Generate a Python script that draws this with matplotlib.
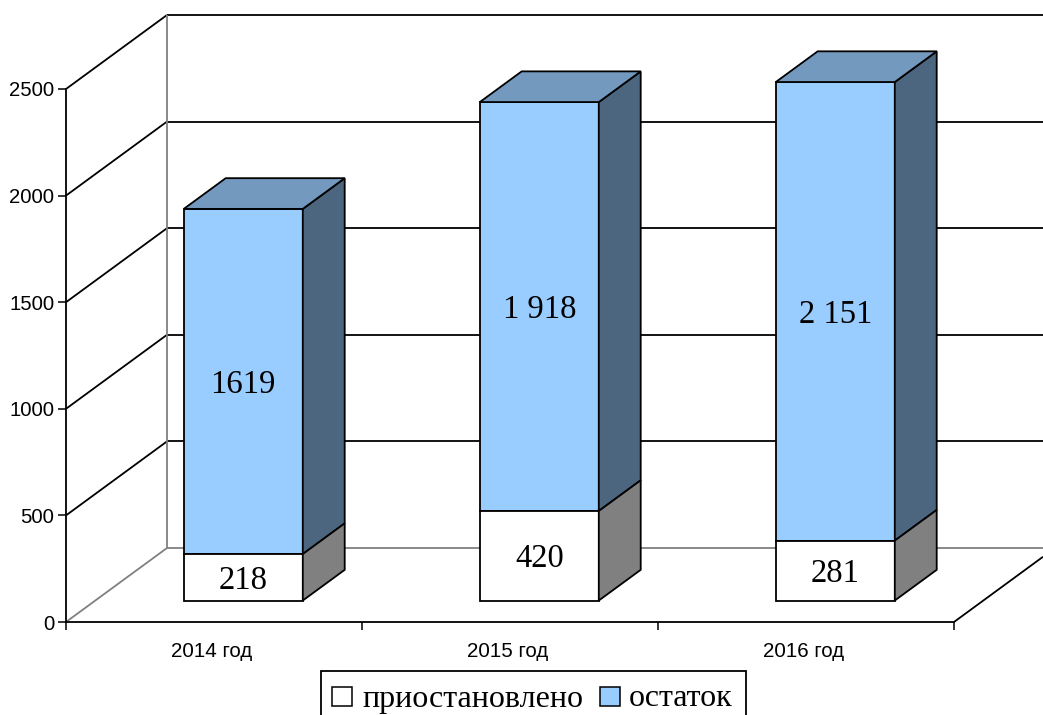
import matplotlib
matplotlib.use("Agg")
from matplotlib import pyplot as plt
from matplotlib.patches import Polygon, Rectangle

categories = ["2014 год", "2015 год", "2016 год"]
suspended = [218, 420, 281]
remainder = [1619, 1918, 2151]
remainder_labels = ["1619", "1 918", "2 151"]
y_ticks = [0, 500, 1000, 1500, 2000, 2500]

W, H = 1043, 715
# pixel position of the front plane
LEFT, RIGHT, BOTTOM, TOP = 66, 954, 622, 89

fig = plt.figure(figsize=(W / 100, H / 100), dpi=100)
ax = fig.add_axes([LEFT / W, 1 - BOTTOM / H, (RIGHT - LEFT) / W, (BOTTOM - TOP) / H])
ax.set_xlim(0, 3)
ax.set_ylim(0, 2500)

slot_px = (RIGHT - LEFT) / 3
val_px = (BOTTOM - TOP) / 2500
# depth of the box in data units, 1.0 = full wall depth
DX = 101 / slot_px
DY = 74 / val_px
BAR_W = 119 / slot_px
BAR_START = 0.29
BAR_DEPTH = 0.415


def shift(x, y, d):
    return x + d * DX, y + d * DY


def line(xs, ys, color="black", lw=1.3, z=1):
    ax.plot(xs, ys, color=color, lw=lw, clip_on=False, zorder=z, solid_capstyle="butt")


def face(points, color, z=3):
    ax.add_patch(Polygon(points, closed=True, facecolor=color, edgecolor="black",
                         lw=1.3, clip_on=False, zorder=z, joinstyle="miter"))


def box(x0, y0, y1, front, side, top=None):
    x1 = x0 + BAR_W
    d0, d1 = BAR_START, BAR_START + BAR_DEPTH
    fl = shift(x0, y0, d0)
    fr = shift(x1, y0, d0)
    tl = shift(x0, y1, d0)
    tr = shift(x1, y1, d0)
    face([fl, fr, tr, tl], front)
    face([fr, shift(x1, y0, d1), shift(x1, y1, d1), tr], side)
    if top is not None:
        face([tl, tr, shift(x1, y1, d1), shift(x0, y1, d1)], top)


# walls
right_end = 3 + (W - RIGHT) / slot_px
for v in y_ticks:
    gray = v == 0
    col = "#808080" if gray else "black"
    bx, by = shift(0, v, 1)
    line([0, bx], [v, by], col)
    line([bx, right_end], [by, by], col)
line([shift(0, 0, 1)[0]] * 2, [shift(0, 0, 1)[1], shift(0, 2500, 1)[1]], "#808080")
# right edge of the floor, runs off the picture
frac = (W - RIGHT) / 101
line([3, 3 + frac * DX], [0, frac * DY])

# bars
label_drop = 3 / val_px
for i in range(len(categories)):
    x0 = i + 0.5 - BAR_W / 2
    s, r = suspended[i], remainder[i]
    box(x0, s, s + r, "#99ccff", "#4d6680", "#7399bf")
    box(x0, 0, s, "white", "#808080")
    lx, ly = shift(i + 0.5, s / 2, BAR_START)
    ax.text(lx, ly - label_drop, str(s), ha="center", va="center", family="Liberation Serif",
            fontsize=23.5, zorder=5, clip_on=False)
    lx, ly = shift(i + 0.5, s + r / 2, BAR_START)
    ax.text(lx, ly - label_drop, remainder_labels[i], ha="center", va="center",
            family="Liberation Serif", fontsize=23.5, zorder=5, clip_on=False)

# axes
for side in ("top", "right"):
    ax.spines[side].set_visible(False)
for side in ("left", "bottom"):
    ax.spines[side].set_linewidth(1.3)
    ax.spines[side].set_zorder(6)
ax.patch.set_alpha(0)
ax.set_yticks(y_ticks)
ax.set_xticks([0, 1, 2, 3])
ax.set_xticklabels([])
ax.tick_params(axis="both", direction="out", length=5.5, width=1.1, labelsize=14.6, pad=3)
for lab in ax.get_yticklabels():
    lab.set_family("Liberation Sans")
for i, name in enumerate(categories):
    ax.annotate(name, (i + 0.5, 0), xytext=(-1.5, -21.5), textcoords="offset points",
                ha="center", va="center", family="Liberation Sans", fontsize=14.8)

# legend
fig.add_artist(Rectangle((321 / W, -0.01), 425 / W, 1 - 671 / H + 0.01, transform=fig.transFigure,
                         facecolor="white", edgecolor="black", lw=1.3))
for px, col, name, tx in [(332, "white", "приостановлено", 362), (600, "#99ccff", "остаток", 629)]:
    fig.add_artist(Rectangle((px / W, 1 - 706 / H), 19.5 / W, 19.5 / H, transform=fig.transFigure,
                             facecolor=col, edgecolor="black", lw=1.1))
    fig.text(tx / W, 1 - 699 / H, name, ha="left", va="center", family="Liberation Serif",
             fontsize=23)

fig.savefig("out.png", dpi=100)
